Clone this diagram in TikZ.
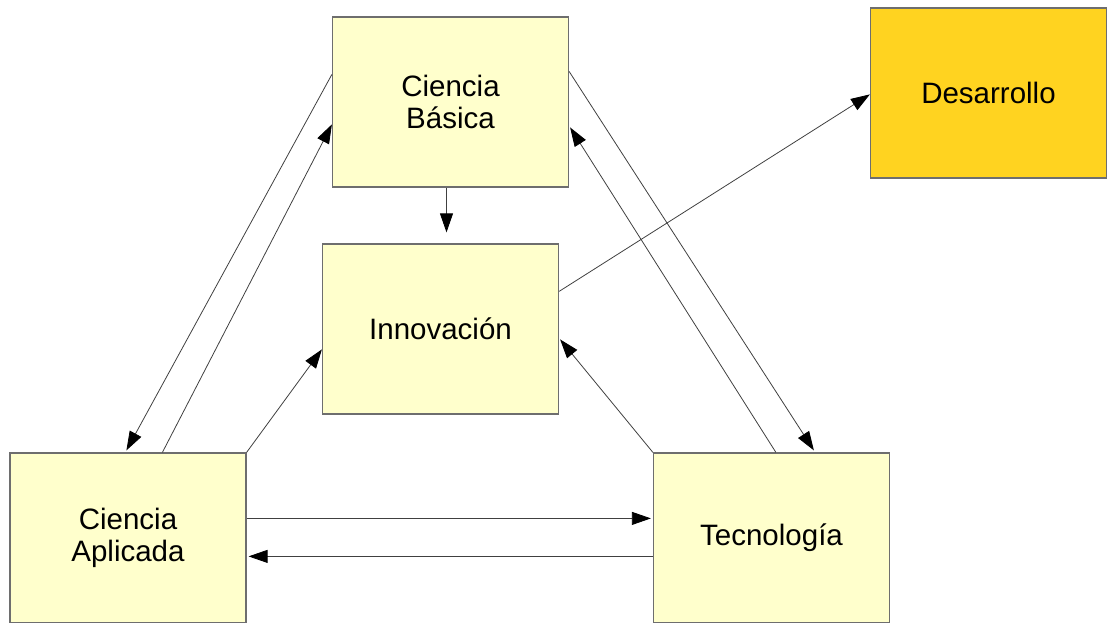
\documentclass[tikz,border=0pt]{standalone}
\usepackage{fontspec}
\setmainfont{Liberation Sans}
\usetikzlibrary{arrows.meta,calc}
\definecolor{boxfill}{RGB}{255,255,204}
\definecolor{devfill}{RGB}{255,211,32}
\definecolor{boxline}{RGB}{110,110,110}
\tikzset{
  box/.style={draw=boxline, line width=1.2pt, fill=boxfill, minimum width=236pt, minimum height=170pt,
    inner sep=0pt, align=center, font=\fontsize{29.5}{32.5}\selectfont},
  conn/.style={draw=black!75, line width=0.8pt, -{Triangle[length=19pt,width=13pt,color=black]}}
}
\begin{document}
\begin{tikzpicture}[x=1pt,y=-1pt]
\useasboundingbox (0,0) rectangle (1109,623);
\node[box] (cb) at (450.5,102) {Ciencia\\Básica};
\node[box, fill=devfill] (des) at (988.5,93) {Desarrollo};
\node[box] (inn) at (440.5,329) {Innovación};
\node[box] (ca) at (128,538) {Ciencia\\Aplicada};
\node[box] (tec) at (771.5,538) {Tecnología};
% CB -> Innovacion
\draw[conn] ([xshift=-4pt]cb.south) -- ([xshift=6pt,yshift=11pt]inn.north);
% CB -> CA
\draw[conn] ([yshift=-58pt]cb.north west) -- ([xshift=117pt,yshift=2pt]ca.north west);
% CA -> CB
\draw[conn] ([xshift=153pt]ca.north west) -- ([yshift=-108pt]cb.north west);
% CA -> Innovacion
\draw[conn] (ca.north east) -- ([yshift=-106pt]inn.north west);
% CA -> Tec
\draw[conn] ([yshift=-66pt]ca.north east) -- ([xshift=-2pt,yshift=-66pt]tec.north west);
% Tec -> CA
\draw[conn] ([yshift=-104pt]tec.north west) -- ([xshift=2pt,yshift=-104pt]ca.north east);
% Tec -> Innovacion
\draw[conn] (tec.north west) -- ([xshift=1pt,yshift=-96pt]inn.north east);
% Tec -> CB
\draw[conn] ([xshift=123pt]tec.north west) -- ([xshift=1pt,yshift=-111pt]cb.north east);
% CB -> Tec
\draw[conn] ([yshift=-55pt]cb.north east) -- ([xshift=161pt,yshift=2pt]tec.north west);
% Innovacion -> Desarrollo
\draw[conn] ([yshift=-48pt]inn.north east) -- ([yshift=-87pt]des.north west);
\end{tikzpicture}
\end{document}
